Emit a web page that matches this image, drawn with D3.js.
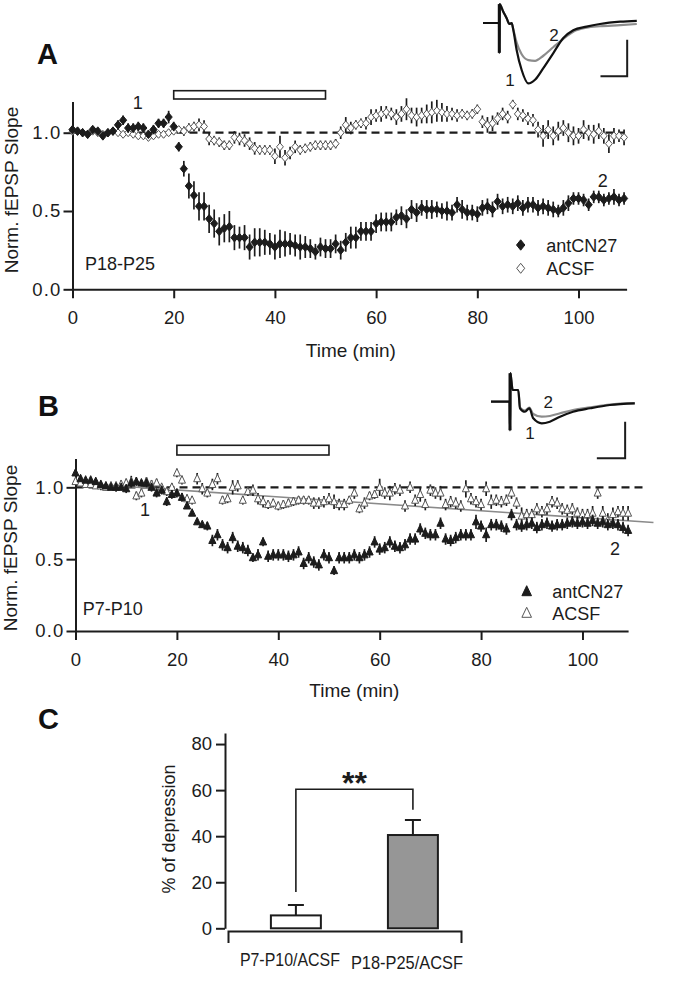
<!DOCTYPE html>
<html>
<head>
<meta charset="utf-8">
<script src="https://cdn.jsdelivr.net/npm/d3@7/dist/d3.min.js"></script>
<style>
    html, body { margin: 0; padding: 0; background: #fff; }
    svg { display: block; font-family: "Liberation Sans", Arial, sans-serif; }
</style>
</head>
<body>
<svg id="figure" width="674" height="995"></svg>
<script>
// Time course: one averaged point per minute
const minutes = d3.range(0, 110);
const timeTicks = [0, 20, 40, 60, 80, 100];
const slopeTicks = [0.0, 0.5, 1.0];
const drugWindow = [20, 50];
const seriesNames = ["antCN27", "ACSF"];

// Panel A, P18-P25
const aAntValues = [
    1.02,1.01,1.00,0.99,1.02,1.01,0.98,1.00,1.01,1.05,
    1.08,1.03,1.03,1.04,1.03,0.99,1.02,1.06,1.06,1.10,
    1.04,0.91,0.77,0.66,0.60,0.53,0.53,0.45,0.42,0.37,
    0.39,0.40,0.33,0.33,0.33,0.27,0.30,0.30,0.30,0.29,
    0.27,0.29,0.29,0.29,0.28,0.27,0.27,0.26,0.24,0.27,
    0.26,0.26,0.29,0.25,0.30,0.33,0.33,0.37,0.37,0.37,
    0.42,0.43,0.43,0.43,0.46,0.47,0.45,0.51,0.49,0.52,
    0.51,0.51,0.51,0.50,0.50,0.49,0.54,0.51,0.49,0.49,
    0.48,0.52,0.53,0.51,0.56,0.53,0.54,0.53,0.55,0.52,
    0.54,0.54,0.52,0.53,0.52,0.51,0.50,0.52,0.55,0.58,
    0.58,0.57,0.54,0.59,0.59,0.57,0.58,0.59,0.57,0.58];
const aAntErr = [
    0.02,0.02,0.02,0.02,0.02,0.02,0.02,0.02,0.02,0.03,
    0.03,0.03,0.03,0.03,0.03,0.02,0.03,0.03,0.03,0.04,
    0.03,0.03,0.05,0.08,0.09,0.09,0.09,0.09,0.09,0.09,
    0.09,0.10,0.08,0.07,0.08,0.08,0.09,0.09,0.08,0.07,
    0.08,0.09,0.08,0.07,0.07,0.08,0.07,0.06,0.05,0.06,
    0.06,0.06,0.06,0.06,0.06,0.07,0.07,0.06,0.06,0.06,
    0.06,0.06,0.06,0.06,0.05,0.06,0.06,0.06,0.06,0.05,
    0.06,0.06,0.05,0.05,0.06,0.05,0.05,0.06,0.05,0.05,
    0.05,0.05,0.05,0.05,0.05,0.05,0.05,0.05,0.05,0.05,
    0.05,0.05,0.05,0.05,0.05,0.05,0.04,0.05,0.05,0.04,
    0.04,0.04,0.04,0.04,0.04,0.04,0.04,0.05,0.04,0.04];
const aAcsfValues = [
    1.01,1.01,1.00,0.99,1.01,1.00,0.99,1.00,1.01,1.00,
    0.99,1.00,0.99,0.98,0.98,0.97,0.98,0.99,0.99,1.00,
    1.01,1.02,1.01,1.03,1.04,1.05,1.04,0.96,0.95,0.94,
    0.92,0.92,0.97,0.96,0.95,0.93,0.90,0.89,0.89,0.89,
    0.85,0.91,0.84,0.87,0.91,0.89,0.90,0.91,0.92,0.92,
    0.92,0.92,0.93,1.00,1.05,1.03,1.05,1.06,1.06,1.10,
    1.11,1.12,1.13,1.12,1.10,1.12,1.15,1.11,1.10,1.11,
    1.12,1.13,1.14,1.13,1.12,1.12,1.11,1.12,1.11,1.12,
    1.15,1.07,1.05,1.06,1.09,1.12,1.10,1.18,1.12,1.11,
    1.09,1.08,1.02,0.98,1.02,0.98,1.01,1.03,1.00,0.98,
    0.98,1.02,1.00,0.99,1.01,0.98,0.93,0.98,0.98,0.97];
const aAcsfErr = [
    0.015,0.015,0.015,0.015,0.015,0.015,0.015,0.015,0.015,0.015,
    0.02,0.02,0.02,0.02,0.02,0.02,0.02,0.02,0.02,0.02,
    0.02,0.02,0.03,0.03,0.03,0.04,0.04,0.04,0.03,0.03,
    0.03,0.03,0.04,0.04,0.04,0.04,0.04,0.03,0.03,0.03,
    0.05,0.07,0.05,0.04,0.04,0.03,0.03,0.03,0.03,0.03,
    0.03,0.03,0.03,0.04,0.05,0.04,0.03,0.03,0.04,0.05,
    0.04,0.05,0.04,0.04,0.05,0.05,0.07,0.05,0.06,0.05,
    0.06,0.07,0.07,0.06,0.05,0.04,0.04,0.03,0.03,0.03,
    0.03,0.04,0.05,0.05,0.04,0.04,0.04,0.03,0.04,0.04,
    0.04,0.04,0.05,0.07,0.06,0.06,0.06,0.05,0.06,0.06,
    0.05,0.06,0.05,0.06,0.05,0.05,0.06,0.05,0.04,0.05];

// Panel B, P7-P10
const bAntValues = [
    1.10,1.06,1.05,1.05,1.04,1.02,1.01,1.00,1.00,1.00,
    0.99,1.03,1.04,1.03,1.03,1.00,0.96,0.98,0.90,0.95,
    0.96,0.93,0.87,0.82,0.76,0.74,0.73,0.63,0.67,0.60,
    0.58,0.65,0.59,0.58,0.56,0.51,0.53,0.62,0.52,0.53,
    0.53,0.53,0.52,0.53,0.55,0.47,0.51,0.48,0.46,0.53,
    0.51,0.42,0.51,0.51,0.51,0.53,0.51,0.53,0.55,0.62,
    0.57,0.58,0.62,0.59,0.58,0.60,0.64,0.64,0.71,0.68,
    0.67,0.67,0.75,0.64,0.63,0.65,0.67,0.67,0.67,0.76,
    0.73,0.67,0.74,0.74,0.73,0.71,0.81,0.74,0.73,0.74,
    0.75,0.72,0.74,0.75,0.73,0.74,0.74,0.75,0.76,0.75,
    0.76,0.75,0.77,0.75,0.76,0.74,0.75,0.74,0.72,0.70];
const bAntErr = [
    0.02,0.02,0.02,0.02,0.02,0.02,0.02,0.02,0.03,0.02,
    0.03,0.03,0.03,0.02,0.03,0.03,0.03,0.03,0.03,0.03,
    0.03,0.03,0.02,0.02,0.02,0.02,0.03,0.04,0.04,0.04,
    0.04,0.04,0.04,0.04,0.04,0.03,0.04,0.03,0.04,0.04,
    0.04,0.04,0.04,0.04,0.04,0.04,0.04,0.04,0.04,0.04,
    0.04,0.03,0.04,0.04,0.04,0.04,0.04,0.04,0.04,0.04,
    0.04,0.04,0.04,0.04,0.04,0.04,0.04,0.04,0.04,0.04,
    0.04,0.04,0.04,0.04,0.04,0.04,0.04,0.04,0.04,0.05,
    0.04,0.05,0.04,0.04,0.04,0.04,0.04,0.04,0.04,0.04,
    0.04,0.04,0.04,0.04,0.04,0.04,0.04,0.04,0.04,0.04,
    0.04,0.04,0.04,0.04,0.04,0.04,0.04,0.04,0.04,0.04];
const bAcsfValues = [
    1.04,1.03,1.02,1.02,1.01,1.01,1.00,1.01,1.01,1.02,
    1.03,1.04,0.94,0.96,1.04,1.02,1.03,1.00,0.97,1.00,
    1.10,1.05,0.92,0.91,1.06,0.99,0.96,1.02,1.06,0.91,
    0.92,1.00,1.01,0.91,0.97,0.98,0.92,0.90,0.88,0.89,
    0.87,0.88,0.89,0.90,0.91,0.91,0.91,0.89,0.89,0.90,
    0.92,0.90,0.88,0.88,0.91,0.96,0.85,0.89,0.94,0.95,
    1.00,0.96,0.96,0.99,0.98,0.87,1.00,0.91,0.95,0.88,
    0.98,0.96,0.96,0.88,0.90,0.89,0.87,0.99,0.92,0.90,
    0.88,0.99,0.90,0.91,0.90,0.91,0.96,0.89,0.80,0.81,
    0.81,0.85,0.83,0.85,0.90,0.89,0.85,0.84,0.85,0.82,
    0.81,0.81,0.82,0.96,0.82,0.77,0.81,0.83,0.82,0.82];
const bAcsfErr = [
    0.02,0.02,0.02,0.02,0.02,0.03,0.02,0.02,0.02,0.03,
    0.03,0.04,0.03,0.03,0.03,0.03,0.03,0.02,0.03,0.03,
    0.03,0.03,0.03,0.03,0.04,0.04,0.03,0.04,0.04,0.03,
    0.03,0.05,0.04,0.03,0.03,0.04,0.04,0.04,0.03,0.03,
    0.03,0.03,0.03,0.03,0.03,0.03,0.03,0.04,0.04,0.04,
    0.04,0.05,0.04,0.04,0.03,0.04,0.03,0.04,0.03,0.03,
    0.06,0.04,0.05,0.04,0.04,0.04,0.04,0.04,0.05,0.04,
    0.04,0.04,0.05,0.04,0.04,0.04,0.04,0.06,0.04,0.04,
    0.04,0.05,0.05,0.04,0.04,0.04,0.04,0.04,0.06,0.04,
    0.04,0.04,0.04,0.04,0.04,0.04,0.04,0.04,0.04,0.04,
    0.04,0.04,0.05,0.04,0.05,0.05,0.05,0.04,0.05,0.05];
// linear drift fit through the P7-P10 ACSF points
const bFitTime = [0, 114];
const bFitValues = [1.03, 0.755];

// Insets: example fEPSP traces (ms, mV), 1 = baseline, 2 = end of recording
const insetATime = [0, 2.9, 3.0, 3.05, 3.1, 3.8, 4.43, 4.93, 5.37, 5.68, 6.3, 7.24, 8.49, 9.74, 11.3, 13.2, 15.0, 16.9, 19.4, 21.9, 25.7, 28.8];
const insetATrace1 = [0, 0, 0, -0.41, 0.26, 0.155, 0.065, -0.014, 0, -0.096, -0.37, -0.646, -0.83, -0.78, -0.62, -0.41, -0.21, -0.10, -0.05, -0.014, 0.018, 0.03];
const insetATrace2 = [0, 0, 0, -0.41, 0.26, 0.155, 0.065, -0.014, 0, -0.09, -0.27, -0.43, -0.51, -0.52, -0.45, -0.33, -0.22, -0.12, -0.065, -0.045, -0.03, -0.014];
const insetBTime = [0, 3.3, 3.36, 3.42, 3.83, 4.82, 5.12, 6.0, 6.77, 7.47, 8.96, 10.4, 12.2, 14.5, 17.5, 21.0, 25.4];
const insetBTrace1 = [0, 0, -0.39, 0.39, 0.16, 0.16, -0.09, -0.137, -0.09, -0.227, -0.295, -0.273, -0.205, -0.137, -0.09, -0.045, -0.022];
const insetBTrace2 = [0, 0, -0.39, 0.39, 0.16, 0.16, -0.08, -0.12, -0.08, -0.168, -0.205, -0.195, -0.158, -0.113, -0.077, -0.038, -0.02];
const scaleBarMs = 5;
const scaleBarMv = 0.5;

// Panel C
const groups = ["P7-P10/ACSF", "P18-P25/ACSF"];
const depression = [5.6, 40.5];
const depressionSem = [4.5, 6.5];
const depressionTicks = [0, 20, 40, 60, 80];
const sigTop = 60.4;
const sigLegEnds = [15.8, 51.5];
const sigLabel = "**";

document.addEventListener("DOMContentLoaded", function () {
    const svg = d3.select("#figure");
    const ink = "#1c1c1c";

    const diamond = (w, h) => `M0,${-h}L${w},0L0,${h}L${-w},0Z`;
    const triangle = (w, h) => `M0,${-h * 0.6}L${w},${h * 0.4}L${-w},${h * 0.4}Z`;

    function styleAxis(sel, size) {
        sel.selectAll("path, line").attr("stroke", ink).attr("stroke-width", 2);
        sel.selectAll("text").attr("fill", ink).style("font-size", size + "px");
    }

    // Time course panels ----------
    function drawTimecourse(o) {
        const g = svg.append("g");
        const x = d3.scaleLinear().domain([0, o.xMax]).range(o.xRange);
        const y = d3.scaleLinear().domain([0, 1.2]).range(o.yRange);

        const xAxis = g.append("g")
            .attr("transform", `translate(0,${o.yRange[0]})`)
            .call(d3.axisBottom(x).tickValues(timeTicks).tickFormat(d3.format("d"))
                .tickSize(9).tickSizeOuter(0).tickPadding(13));
        styleAxis(xAxis, 18.5);

        const yAxis = g.append("g")
            .attr("transform", `translate(${o.xRange[0]},0)`)
            .call(d3.axisLeft(y).tickValues(slopeTicks).tickFormat(d3.format(".1f"))
                .tickSize(9).tickSizeOuter(0).tickPadding(2));
        styleAxis(yAxis, 18.5);
        yAxis.selectAll("text").attr("letter-spacing", 1.2);

        g.append("text")
            .attr("transform", `translate(${o.yTitleX},${o.yTitleY}) rotate(-90)`)
            .attr("text-anchor", "middle")
            .style("font-size", "19px")
            .attr("fill", ink)
            .text("Norm. fEPSP Slope");
        g.append("text")
            .attr("x", x(55))
            .attr("y", o.xTitleY)
            .attr("text-anchor", "middle")
            .style("font-size", "19px")
            .attr("fill", ink)
            .text("Time (min)");

        // drug application bar
        g.append("rect")
            .attr("x", x(drugWindow[0]))
            .attr("y", o.yRange[1] - o.barOffset)
            .attr("width", x(drugWindow[1]) - x(drugWindow[0]))
            .attr("height", o.barHeight)
            .attr("fill", "#fff")
            .attr("stroke", ink)
            .attr("stroke-width", 1.6);

        // baseline reference
        g.append("line")
            .attr("x1", x(0)).attr("x2", x(o.dashEnd))
            .attr("y1", y(1)).attr("y2", y(1))
            .attr("stroke", ink)
            .attr("stroke-width", 2.2)
            .attr("stroke-dasharray", "8,5");

        if (o.fit) {
            g.append("path")
                .datum(o.fit.t.map((t, i) => ({ t: t, v: o.fit.v[i] })))
                .attr("d", d3.line().x(d => x(d.t)).y(d => y(d.v)))
                .attr("stroke", "#8a8a8a")
                .attr("stroke-width", 1.6)
                .attr("fill", "none");
        }

        o.series.forEach(s => {
            const pts = s.values.map((v, i) => ({ t: minutes[i], v: v, e: s.err[i] }));
            const sg = g.append("g");
            sg.selectAll("line")
                .data(pts)
                .join("line")
                .attr("x1", d => x(d.t)).attr("x2", d => x(d.t))
                .attr("y1", d => y(d.v - d.e)).attr("y2", d => y(d.v + d.e))
                .attr("stroke", ink)
                .attr("stroke-width", 1.7);
            sg.selectAll("path")
                .data(pts)
                .join("path")
                .attr("d", s.shape)
                .attr("transform", d => `translate(${x(d.t)},${y(d.v)})`)
                .attr("fill", s.fill)
                .attr("stroke", s.stroke)
                .attr("stroke-width", 1);
        });

        // annotations and legend
        o.notes.forEach(n => {
            g.append("text")
                .attr("x", x(n.t)).attr("y", y(n.v))
                .attr("text-anchor", "middle")
                .style("font-size", "18px")
                .attr("fill", ink)
                .text(n.label);
        });
        g.append("text")
            .attr("x", o.ageX).attr("y", o.ageY)
            .style("font-size", "18px")
            .attr("fill", ink)
            .text(o.age);

        o.series.slice().reverse().forEach((s, i) => {
            const ly = o.legendY + i * o.legendGap;
            g.append("path")
                .attr("d", s.legendShape)
                .attr("transform", `translate(${o.legendX},${ly})`)
                .attr("fill", s.fill)
                .attr("stroke", s.stroke)
                .attr("stroke-width", 1);
            g.append("text")
                .attr("x", o.legendX + 25.5).attr("y", ly + 6.5)
                .style("font-size", "18px")
                .attr("fill", ink)
                .text(s.name);
        });
    }

    drawTimecourse({
        xMax: 109.5, xRange: [72.5, 626.6], yRange: [289.3, 101.4],
        yTitleX: 17.5, yTitleY: 190, xTitleY: 357,
        barOffset: 10.7, barHeight: 8.3, dashEnd: 109,
        age: "P18-P25", ageX: 85, ageY: 270,
        legendX: 520.7, legendY: 245, legendGap: 23.3,
        notes: [{ t: 12.9, v: 1.151, label: "1" }, { t: 104.8, v: 0.656, label: "2" }],
        series: [
            { name: seriesNames[1], values: aAcsfValues, err: aAcsfErr, shape: diamond(3.4, 4), legendShape: diamond(4, 5), fill: "#fff", stroke: "#555" },
            { name: seriesNames[0], values: aAntValues, err: aAntErr, shape: diamond(3.6, 4.3), legendShape: diamond(4.2, 5.2), fill: ink, stroke: ink }
        ]
    });

    drawTimecourse({
        xMax: 109, xRange: [75.5, 628.1], yRange: [631, 458.6],
        yTitleX: 17, yTitleY: 548, xTitleY: 697,
        barOffset: 13.3, barHeight: 9.7, dashEnd: 112.5,
        fit: { t: bFitTime, v: bFitValues },
        age: "P7-P10", ageX: 82.7, ageY: 615,
        legendX: 526.7, legendY: 591.7, legendGap: 21.6,
        notes: [{ t: 13.7, v: 0.797, label: "1" }, { t: 106.4, v: 0.532, label: "2" }],
        series: [
            { name: seriesNames[1], values: bAcsfValues, err: bAcsfErr, shape: triangle(3.5, 7.5), legendShape: triangle(4.8, 10), fill: "#fff", stroke: "#555" },
            { name: seriesNames[0], values: bAntValues, err: bAntErr, shape: triangle(3.6, 7.5), legendShape: triangle(4.8, 10), fill: ink, stroke: ink }
        ]
    });

    // Insets ----------
    function drawInset(o) {
        const g = svg.append("g");
        const x = d3.scaleLinear().domain([0, scaleBarMs]).range([o.x0, o.x0 + o.msPx]);
        const y = d3.scaleLinear().domain([0, -scaleBarMv]).range([o.y0, o.y0 + o.mvPx]);
        const line = d3.line().x(d => x(d.t)).y(d => y(d.v)).curve(d3.curveMonotoneX);
        [{ v: o.trace2, c: "#8c8c8c" }, { v: o.trace1, c: "#111" }].forEach(tr => {
            g.append("path")
                .datum(o.time.map((t, i) => ({ t: t, v: tr.v[i] })))
                .attr("d", line)
                .attr("fill", "none")
                .attr("stroke", tr.c)
                .attr("stroke-width", 2.2)
                .attr("stroke-linejoin", "round");
        });
        // stimulus artefact
        const k = o.time.findIndex((t, i) => o.trace1[i] < -0.3);
        g.append("line")
            .attr("x1", x(o.time[k])).attr("x2", x(o.time[k]))
            .attr("y1", y(o.trace1[k])).attr("y2", y(o.trace1[k + 1]))
            .attr("stroke", "#111").attr("stroke-width", 3);
        // scale bar
        const c = o.barCorner;
        g.append("path")
            .attr("d", `M${x(c[0])},${y(c[1] + scaleBarMv)}V${y(c[1])}H${x(c[0] - scaleBarMs)}`)
            .attr("fill", "none")
            .attr("stroke", ink)
            .attr("stroke-width", 2);
        o.labels.forEach(n => {
            g.append("text")
                .attr("x", x(n.t)).attr("y", y(n.v))
                .attr("text-anchor", "middle")
                .style("font-size", "17px")
                .attr("fill", ink)
                .text(n.label);
        });
    }

    drawInset({
        x0: 483, y0: 23, msPx: 26.7, mvPx: 36.4,
        time: insetATime, trace1: insetATrace1, trace2: insetATrace2,
        barCorner: [27.0, -0.73],
        labels: [{ t: 5.06, v: -0.872, label: "1" }, { t: 13.3, v: -0.254, label: "2" }]
    });
    drawInset({
        x0: 491, y0: 401.7, msPx: 28.3, mvPx: 36.6,
        time: insetBTime, trace1: insetBTrace1, trace2: insetBTrace2,
        barCorner: [23.7, -0.773],
        labels: [{ t: 6.9, v: -0.51, label: "1" }, { t: 10.1, v: -0.086, label: "2" }]
    });

    // Panel C bars ----------
    const gc = svg.append("g");
    const yc = d3.scaleLinear().domain([0, 84.8]).range([928.3, 733]);
    const xc = d3.scaleBand().domain(groups).range([228, 461])
        .paddingInner(0.573).paddingOuter(0.282).align(0.65);
    const barFill = { "P7-P10/ACSF": "#fff", "P18-P25/ACSF": "#969696" };

    const ycAxis = gc.append("g")
        .attr("transform", "translate(225,0)")
        .call(d3.axisLeft(yc).tickValues(depressionTicks).tickSize(9).tickSizeOuter(0).tickPadding(4));
    styleAxis(ycAxis, 18.5);

    const xcAxis = gc.append("g")
        .attr("transform", "translate(0,931)")
        .call(d3.axisBottom(d3.scaleLinear().range([228, 461])).tickValues([]).tickSizeOuter(12));
    styleAxis(xcAxis, 18);

    const bars = groups.map((gname, i) => ({ name: gname, v: depression[i], e: depressionSem[i] }));
    gc.selectAll(".err")
        .data(bars)
        .join("path")
        .attr("class", "err")
        .attr("d", d => {
            const cx = xc(d.name) + xc.bandwidth() / 2;
            return `M${cx},${yc(d.v)}V${yc(d.v + d.e)}M${cx - 8},${yc(d.v + d.e)}H${cx + 8}`;
        })
        .attr("fill", "none")
        .attr("stroke", ink)
        .attr("stroke-width", 2);
    gc.selectAll(".bar")
        .data(bars)
        .join("rect")
        .attr("class", "bar")
        .attr("x", d => xc(d.name))
        .attr("y", d => yc(d.v))
        .attr("width", xc.bandwidth())
        .attr("height", d => yc(0) - yc(d.v))
        .attr("fill", d => barFill[d.name])
        .attr("stroke", ink)
        .attr("stroke-width", 2);

    gc.selectAll(".cat")
        .data(groups)
        .join("text")
        .attr("class", "cat")
        .attr("x", d => xc(d) + xc.bandwidth() / 2 - 6)
        .attr("y", (d, i) => 966 + i * 3)
        .attr("text-anchor", "middle")
        .attr("textLength", (d, i) => [100, 112][i])
        .attr("lengthAdjust", "spacingAndGlyphs")
        .style("font-size", "18px")
        .attr("fill", ink)
        .text(d => d);

    // significance bracket
    const c1 = xc(groups[0]) + xc.bandwidth() / 2;
    const c2 = xc(groups[1]) + xc.bandwidth() / 2;
    gc.append("path")
        .attr("d", `M${c1},${yc(sigLegEnds[0])}V${yc(sigTop)}H${c2}V${yc(sigLegEnds[1])}`)
        .attr("fill", "none")
        .attr("stroke", ink)
        .attr("stroke-width", 1.6);
    gc.append("text")
        .attr("x", (c1 + c2) / 2)
        .attr("y", yc(sigTop) + 5)
        .attr("text-anchor", "middle")
        .style("font-size", "32px")
        .style("font-weight", "bold")
        .attr("fill", ink)
        .text(sigLabel);

    gc.append("text")
        .attr("transform", "translate(175,829) rotate(-90)")
        .attr("text-anchor", "middle")
        .style("font-size", "18px")
        .attr("fill", ink)
        .text("% of depression");

    // Panel letters ----------
    [["A", 37, 64], ["B", 38, 416], ["C", 38, 729]].forEach(p => {
        svg.append("text")
            .attr("x", p[1]).attr("y", p[2])
            .style("font-size", "29px")
            .style("font-weight", "bold")
            .attr("fill", "#111")
            .text(p[0]);
    });
});
</script>
</body>
</html>
